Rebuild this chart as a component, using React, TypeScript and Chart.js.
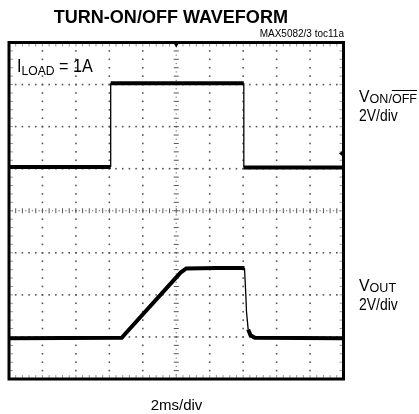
import React, { useEffect, useRef } from "react";
import { Chart, registerables } from "chart.js";

Chart.register(...registerables);

// Scope grid: 10 horizontal divisions (2ms/div), 8 vertical divisions (2V/div)
const X_DIVS = 10;
const Y_DIVS = 8;

// V_ON/OFF trace (time in divisions, level in divisions from bottom)
const onOffTime = [0, 3.04, 3.04, 7.02, 7.02, 10];
const onOffLevel = [5.04, 5.04, 7.03, 7.03, 5.03, 5.03];

// V_OUT trace
const voutTime = [0, 3.37, 3.47, 5.13, 5.3, 6.2, 7.04, 7.08, 7.1, 7.15, 7.22, 7.35, 10];
const voutLevel = [0.97, 0.98, 1.07, 2.53, 2.63, 2.64, 2.64, 2.0, 1.6, 1.18, 1.04, 0.98, 0.97];

// Trigger markers
const triggerTime = 5;
const triggerLevel = 5.36;

const toPoints = (xs: number[], ys: number[]) => xs.map((x, i) => ({ x, y: ys[i] }));

const scopePlugin = {
  id: "scopeGrid",
  beforeDatasetsDraw(chart: any) {
    const { ctx, chartArea: a, scales } = chart;
    const xs = scales.x;
    const ys = scales.y;
    ctx.save();
    ctx.fillStyle = "#555";
    // dots along vertical major grid lines
    for (let i = 1; i < X_DIVS; i++) {
      if (i === X_DIVS / 2) continue;
      const px = xs.getPixelForValue(i);
      for (let j = 0; j <= Y_DIVS * 5; j++) {
        const py = ys.getPixelForValue(j / 5);
        ctx.fillRect(px - 0.8, py - 0.8, 1.6, 1.6);
      }
    }
    // dots along horizontal major grid lines
    for (let j = 1; j < Y_DIVS; j++) {
      if (j === Y_DIVS / 2) continue;
      const py = ys.getPixelForValue(j);
      for (let i = 0; i <= X_DIVS * 5; i++) {
        const px = xs.getPixelForValue(i / 5);
        ctx.fillRect(px - 0.8, py - 0.8, 1.6, 1.6);
      }
    }
    // center cross with ticks
    ctx.strokeStyle = "#555";
    ctx.fillStyle = "#777";
    ctx.lineWidth = 1;
    const cx = xs.getPixelForValue(X_DIVS / 2);
    const cy = ys.getPixelForValue(Y_DIVS / 2);
    for (let j = 0; j <= Y_DIVS * 10; j++) {
      const py = ys.getPixelForValue(j / 10);
      if (j % 2 === 0) {
        ctx.beginPath();
        ctx.moveTo(cx - 2.5, py);
        ctx.lineTo(cx + 2.5, py);
        ctx.stroke();
      } else {
        ctx.fillRect(cx - 0.6, py - 0.6, 1.2, 1.2);
      }
    }
    for (let i = 0; i <= X_DIVS * 10; i++) {
      const px = xs.getPixelForValue(i / 10);
      if (i % 2 === 0) {
        ctx.beginPath();
        ctx.moveTo(px, cy - 2.5);
        ctx.lineTo(px, cy + 2.5);
        ctx.stroke();
      } else {
        ctx.fillRect(px - 0.6, cy - 0.6, 1.2, 1.2);
      }
    }
    // border ticks
    ctx.strokeStyle = "#999";
    for (let i = 1; i < X_DIVS * 5; i++) {
      const px = xs.getPixelForValue(i / 5);
      ctx.beginPath();
      ctx.moveTo(px, a.top);
      ctx.lineTo(px, a.top + 4);
      ctx.moveTo(px, a.bottom);
      ctx.lineTo(px, a.bottom - 4);
      ctx.stroke();
    }
    for (let j = 1; j < Y_DIVS * 5; j++) {
      const py = ys.getPixelForValue(j / 5);
      ctx.beginPath();
      ctx.moveTo(a.left, py);
      ctx.lineTo(a.left + 4, py);
      ctx.moveTo(a.right, py);
      ctx.lineTo(a.right - 4, py);
      ctx.stroke();
    }
    ctx.restore();
  },
  afterDatasetsDraw(chart: any) {
    const { ctx, chartArea: a, scales } = chart;
    ctx.save();
    ctx.strokeStyle = "#000";
    ctx.lineWidth = 3;
    ctx.strokeRect(a.left, a.top, a.right - a.left, a.bottom - a.top);
    ctx.fillStyle = "#000";
    // trigger time marker (top)
    const tx = scales.x.getPixelForValue(triggerTime);
    ctx.beginPath();
    ctx.moveTo(tx - 3, a.top);
    ctx.lineTo(tx + 3, a.top);
    ctx.lineTo(tx, a.top + 5);
    ctx.closePath();
    ctx.fill();
    // trigger level marker (right)
    const ty = scales.y.getPixelForValue(triggerLevel);
    ctx.beginPath();
    ctx.moveTo(a.right, ty - 3.5);
    ctx.lineTo(a.right, ty + 3.5);
    ctx.lineTo(a.right - 4.5, ty);
    ctx.closePath();
    ctx.fill();
    ctx.restore();
  },
};

const segWidth = (c: any) => {
  const dx = Math.abs(c.p1.x - c.p0.x);
  const dy = Math.abs(c.p1.y - c.p0.y);
  return dy > 4 * dx ? 1.3 : 4;
};

const FONT = "'Liberation Sans', Arial, Helvetica, sans-serif";

function Label(props: {
  left?: number;
  right?: number;
  center?: number;
  baseline: number;
  size: number;
  bold?: boolean;
  sx?: number;
  children: React.ReactNode;
}) {
  const { left, right, center, baseline, size, bold, sx = 1, children } = props;
  const style: React.CSSProperties = {
    position: "absolute",
    top: baseline - 0.8465 * size,
    fontSize: size,
    lineHeight: `${size}px`,
    fontWeight: bold ? "bold" : "normal",
    whiteSpace: "nowrap",
    color: "#000",
  };
  if (center !== undefined) {
    style.left = center;
    style.transform = `translateX(-50%) scaleX(${sx})`;
    style.transformOrigin = "0 0";
  } else if (right !== undefined) {
    style.right = 419 - right;
    style.transform = `scaleX(${sx})`;
    style.transformOrigin = "100% 0";
  } else {
    style.left = left;
    style.transform = `scaleX(${sx})`;
    style.transformOrigin = "0 0";
  }
  return <div style={style}>{children}</div>;
}

const sub = (size: number, shift: number): React.CSSProperties => ({
  fontSize: size,
  lineHeight: 1,
  verticalAlign: `${-shift}px`,
});

export default function App() {
  const ref = useRef<HTMLCanvasElement | null>(null);

  useEffect(() => {
    if (!ref.current) return;
    const chart = new Chart(ref.current, {
      type: "line",
      data: {
        datasets: [
          {
            label: "VON/OFF",
            data: toPoints(onOffTime, onOffLevel),
            borderColor: "#000",
            pointRadius: 0,
            tension: 0,
            segment: { borderWidth: segWidth },
          } as any,
          {
            label: "VOUT",
            data: toPoints(voutTime, voutLevel),
            borderColor: "#000",
            pointRadius: 0,
            tension: 0,
            segment: { borderWidth: segWidth },
          } as any,
        ],
      },
      options: {
        animation: false,
        responsive: false,
        devicePixelRatio: 1,
        layout: { padding: { left: 9, top: 42.5, right: 75.5, bottom: 35 } },
        scales: {
          x: { type: "linear", min: 0, max: X_DIVS, display: false },
          y: { type: "linear", min: 0, max: Y_DIVS, display: false },
        },
        plugins: { legend: { display: false }, tooltip: { enabled: false } },
        events: [],
      },
      plugins: [scopePlugin],
    });
    return () => chart.destroy();
  }, []);

  return (
    <div
      style={{
        position: "fixed",
        left: 0,
        top: 0,
        width: 419,
        height: 414,
        background: "#fff",
        fontFamily: FONT,
        overflow: "hidden",
      }}
    >
      <canvas ref={ref} width={419} height={414} style={{ position: "absolute", left: 0, top: 0 }} />
      <Label center={176.5} baseline={23} size={19} bold sx={0.95}>
        TURN-ON/OFF WAVEFORM
      </Label>
      <Label right={344} baseline={37} size={10}>
        MAX5082/3 toc11a
      </Label>
      <Label left={17} baseline={72} size={18} sx={0.9}>
        I<span style={sub(13.5, 3)}>LOAD</span> = 1A
      </Label>
      <Label left={359} baseline={102} size={17} sx={0.93}>
        V<span style={sub(13.5, 1)}>ON/<span style={{ textDecoration: "overline" }}>OFF</span></span>
      </Label>
      <Label left={359} baseline={121} size={17} sx={0.82}>
        2V/div
      </Label>
      <Label left={359} baseline={291} size={17} sx={0.93}>
        V<span style={sub(13.5, 1)}>OUT</span>
      </Label>
      <Label left={359} baseline={310} size={17} sx={0.82}>
        2V/div
      </Label>
      <Label center={176.5} baseline={410} size={15}>
        2ms/div
      </Label>
    </div>
  );
}
